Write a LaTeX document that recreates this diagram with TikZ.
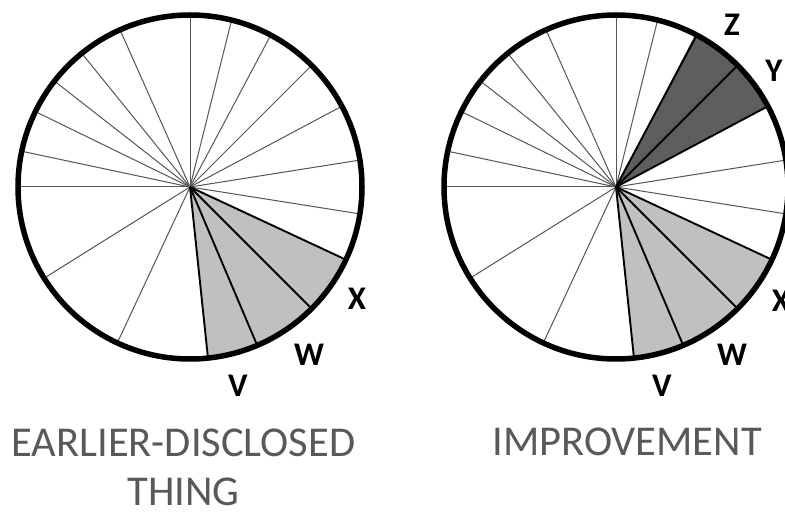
\documentclass[tikz,border=0pt]{standalone}
\usepackage{fontspec}
\setmainfont{Carlito}
\definecolor{spokegray}{HTML}{555555}
\definecolor{lightshade}{HTML}{C0C0C0}
\definecolor{darkshade}{HTML}{5E5E5E}
\definecolor{captiongray}{HTML}{595959}
\begin{document}
\begin{tikzpicture}[x=1pt,y=1pt]
\tikzset{
 wheel/.style={circle, minimum size=344pt, inner sep=0pt, outer sep=0pt},
 rim/.style={line width=5.5pt, draw=black},
 thinspoke/.style={draw=spokegray, line width=1pt},
 thickspoke/.style={draw=black, line width=1.9pt},
 lightwedge/.style={fill=lightshade},
 darkwedge/.style={fill=darkshade},
 letter/.style={font=\fontsize{33}{33}\selectfont\bfseries, inner sep=0pt},
 caption/.style={font=\fontsize{42.5}{50}\selectfont, text=captiongray, inner sep=0pt, anchor=base}
}
\useasboundingbox (0,0) rectangle (785,512);
\fill[white] (0,0) rectangle (785,512);
\path node[wheel] (L) at (190,325) {};
\path node[wheel] (R) at (616,325) {};
% shaded wedges
\fill[lightwedge] (L.center) -- (L.-84) arc[start angle=-84, end angle=-25, radius=172pt] -- cycle;
\fill[lightwedge] (R.center) -- (R.-84) arc[start angle=-84, end angle=-25, radius=172pt] -- cycle;
\fill[darkwedge] (R.center) -- (R.28) arc[start angle=28, end angle=62.5, radius=172pt] -- cycle;
% spokes
\foreach \a in {90,76,62.5,45,28,9,-9,-115,-148,180,168,154,142,129,114}
  \draw[thinspoke] (L.center) -- (L.\a);
\foreach \a in {-25,-45,-67,-84}
  \draw[thickspoke] (L.center) -- (L.\a);
\foreach \a in {90,76,9,-9,-115,-148,180,168,154,142,129,114}
  \draw[thinspoke] (R.center) -- (R.\a);
\foreach \a in {62.5,45,28,-25,-45,-67,-84}
  \draw[thickspoke] (R.center) -- (R.\a);
% rims
\draw[rim] (L.center) circle[radius=172pt];
\draw[rim] (R.center) circle[radius=172pt];
% labels
\node[letter] (LX) at (357,213) {X};
\node[letter] (LW) at (309,157) {W};
\node[letter] (LV) at (238,126) {V};
\node[letter] (RZ) at (732,487) {Z};
\node[letter] (RY) at (774,441) {Y};
\node[letter] (RX) at (781,211) {X};
\node[letter] (RW) at (732,157) {W};
\node[letter] (RV) at (662,126) {V};
% captions
\node[caption] (C1) at (183.5,56) {EARLIER-DISCLOSED};
\node[caption] (C2) at (183.5,7) {THING};
\node[caption] (C3) at (627,57) {IMPROVEMENT};
\end{tikzpicture}
\end{document}
